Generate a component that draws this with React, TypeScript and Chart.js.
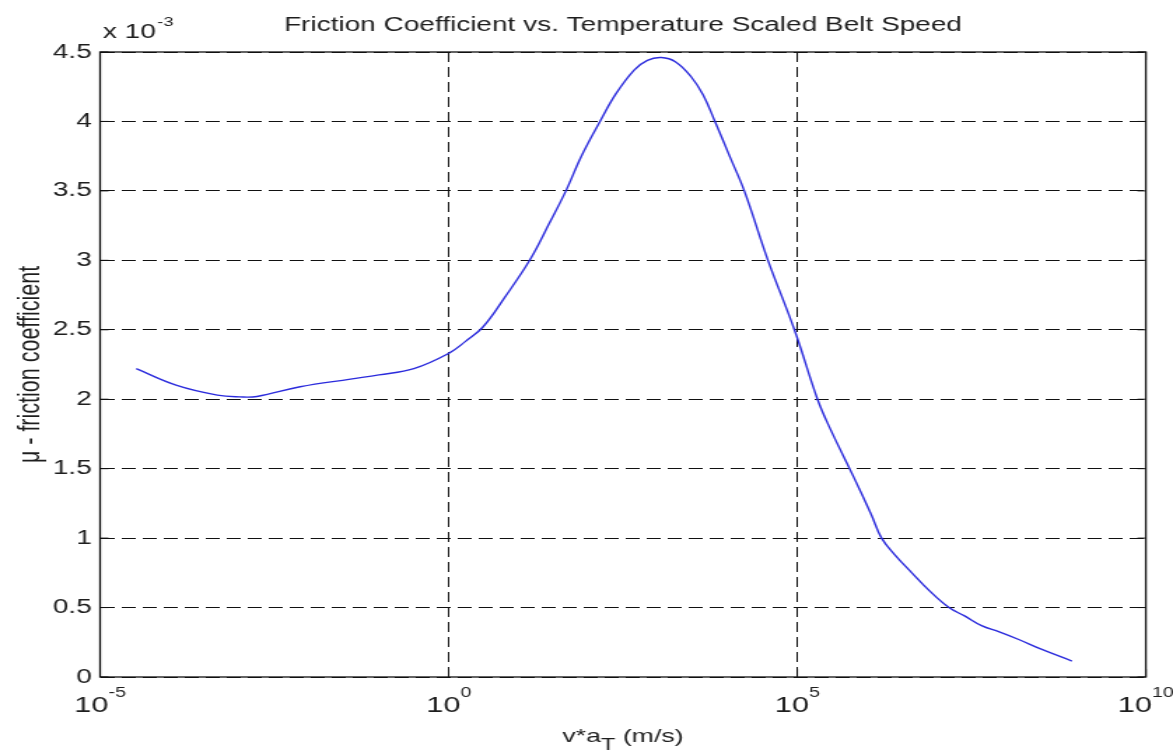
import React, { useEffect, useRef } from "react";
import { Chart, registerables } from "chart.js";

Chart.register(...registerables);

// Temperature scaled belt speed v*a_T (m/s)
const speedValues = [
  3.3e-5, 1.26e-4, 4.8e-4, 1.0e-3, 1.78e-3, 7.4e-3, 3.9e-2, 0.1, 0.316, 1,
  1.78, 3.1, 6.3, 14.5, 28, 48, 80, 148, 251, 457,
  708, 1120, 1780, 3020, 4470, 6600, 1.07e4, 1.74e4, 3.8e4, 9.1e4,
  1.95e5, 2.95e5, 6.3e5, 1.15e6, 1.62e6, 2.51e6, 4.4e6, 7.9e6, 1.5e7, 2.51e7,
  4.4e7, 7.9e7, 1.5e8, 3.16e8, 8.7e8,
];
// Friction coefficient (x 10^-3)
const frictionValues = [
  2.22, 2.10, 2.03, 2.017, 2.02, 2.09, 2.145, 2.175, 2.22, 2.33,
  2.42, 2.52, 2.73, 3.0, 3.27, 3.5, 3.75, 4.0, 4.2, 4.37,
  4.44, 4.46, 4.43, 4.32, 4.19, 4.0, 3.75, 3.5, 3.0, 2.5,
  2.0, 1.79, 1.45, 1.17, 1.0, 0.88, 0.75, 0.62, 0.5, 0.44,
  0.37, 0.325, 0.27, 0.2, 0.115,
];

const xTickValues = [1e-5, 1, 1e5, 1e10];
const xTickExponents = ["-5", "0", "5", "10"];
const yTickValues = [0, 0.5, 1, 1.5, 2, 2.5, 3, 3.5, 4, 4.5];
const yTickLabels = ["0", "0.5", "1", "1.5", "2", "2.5", "3", "3.5", "4", "4.5"];

const chartTitle = "Friction Coefficient vs. Temperature Scaled Belt Speed";
const yAxisTitle = "\u03bc - friction coefficient";
const yMultiplierParts = ["x 10", "-3"];
const xAxisTitleParts = ["v*a", "T", " (m/s)"];

const W = 838;
const H = 751;
const SX = 1173 / W;
const FONT = "'Liberation Sans', Arial, Helvetica, sans-serif";
const TEXT = "#1e1e1e";

const matlabPlugin = {
  id: "matlabFrame",
  afterDraw(chart: any) {
    const { ctx, chartArea } = chart;
    const { left, right, top, bottom } = chartArea;
    const xs = chart.scales.x;
    const ys = chart.scales.y;
    ctx.save();
    // frame
    ctx.strokeStyle = "#111";
    ctx.lineWidth = 1.3;
    ctx.setLineDash([]);
    ctx.strokeRect(left, top, right - left, bottom - top);
    // inward tick marks
    ctx.lineWidth = 1;
    ctx.beginPath();
    xTickValues.forEach((v) => {
      const px = xs.getPixelForValue(v);
      ctx.moveTo(px, bottom);
      ctx.lineTo(px, bottom - 8);
      ctx.moveTo(px, top);
      ctx.lineTo(px, top + 8);
    });
    yTickValues.forEach((v) => {
      const py = ys.getPixelForValue(v);
      ctx.moveTo(left, py);
      ctx.lineTo(left + 6, py);
      ctx.moveTo(right, py);
      ctx.lineTo(right - 6, py);
    });
    ctx.stroke();

    ctx.fillStyle = TEXT;
    // x tick labels with superscript exponents
    xTickValues.forEach((v, i) => {
      const px = xs.getPixelForValue(v);
      ctx.font = `22px ${FONT}`;
      const wb = ctx.measureText("10").width;
      ctx.font = `14px ${FONT}`;
      const we = ctx.measureText(xTickExponents[i]).width;
      const start = px - (wb + we) / 2;
      ctx.textAlign = "left";
      ctx.textBaseline = "alphabetic";
      ctx.font = `22px ${FONT}`;
      ctx.fillText("10", start, 712);
      ctx.font = `14px ${FONT}`;
      ctx.fillText(xTickExponents[i], start + wb, 697);
    });

    // multiplier above y axis
    ctx.textAlign = "left";
    ctx.font = `20px ${FONT}`;
    ctx.fillText(yMultiplierParts[0], left + 2, 38);
    const wm = ctx.measureText(yMultiplierParts[0]).width;
    ctx.font = `13px ${FONT}`;
    ctx.fillText(yMultiplierParts[1], left + 2 + wm + 1, 26);

    // title
    ctx.font = `20px ${FONT}`;
    ctx.textAlign = "center";
    ctx.fillText(chartTitle, (left + right) / 2, 31);

    // x axis title with subscript
    ctx.textAlign = "left";
    ctx.font = `19px ${FONT}`;
    const w0 = ctx.measureText(xAxisTitleParts[0]).width;
    const w2 = ctx.measureText(xAxisTitleParts[2]).width;
    ctx.font = `17px ${FONT}`;
    const w1 = ctx.measureText(xAxisTitleParts[1]).width;
    const tx = (left + right) / 2 - (w0 + w1 + w2) / 2;
    ctx.font = `19px ${FONT}`;
    ctx.fillText(xAxisTitleParts[0], tx, 742);
    ctx.font = `17px ${FONT}`;
    ctx.fillText(xAxisTitleParts[1], tx + w0, 750);
    ctx.font = `19px ${FONT}`;
    ctx.fillText(xAxisTitleParts[2], tx + w0 + w1, 742);
    ctx.restore();
  },
};

export default function App() {
  const canvasRef = useRef<HTMLCanvasElement | null>(null);

  useEffect(() => {
    const canvas = canvasRef.current;
    if (!canvas) return;
    const chart = new Chart(canvas, {
      type: "line",
      data: {
        datasets: [
          {
            label: "friction",
            data: speedValues.map((x, i) => ({ x, y: frictionValues[i] })),
            borderColor: "#2b2bdc",
            borderWidth: 1.4,
            pointRadius: 0,
            fill: false,
            tension: 0.4,
          },
        ],
      },
      options: {
        responsive: false,
        animation: false,
        layout: { padding: { top: 52, right: W - 818.6, left: 0, bottom: 0 } },
        plugins: {
          legend: { display: false },
          title: { display: false },
          tooltip: { enabled: false },
        },
        scales: {
          x: {
            type: "logarithmic",
            min: 1e-5,
            max: 1e10,
            afterBuildTicks: (scale: any) => {
              scale.ticks = xTickValues.map((value) => ({ value }));
            },
            afterFit: (scale: any) => {
              scale.height = H - 677;
            },
            ticks: { display: false },
            grid: { color: "#111", lineWidth: 1, drawTicks: false },
            border: { display: false, dash: [10, 5] },
          },
          y: {
            type: "linear",
            min: 0,
            max: 4.5,
            afterBuildTicks: (scale: any) => {
              scale.ticks = yTickValues.map((value) => ({ value }));
            },
            afterFit: (scale: any) => {
              scale.width = 71.5;
            },
            ticks: {
              color: TEXT,
              font: { size: 20, family: FONT },
              padding: 6,
              callback: (_v: any, i: number) => yTickLabels[i],
            },
            grid: { color: "#111", lineWidth: 1, drawTicks: false },
            border: { display: false, dash: [10, 5] },
            title: {
              display: true,
              text: yAxisTitle,
              color: TEXT,
              font: { size: 21.5, family: FONT },
              padding: { top: 9, bottom: 0 },
            },
          },
        },
      },
      plugins: [matlabPlugin],
    });
    return () => chart.destroy();
  }, []);

  return (
    <div
      style={{
        position: "fixed",
        left: 0,
        top: 0,
        width: 1173,
        height: 751,
        overflow: "hidden",
        background: "#fff",
      }}
    >
      <canvas
        ref={canvasRef}
        width={W}
        height={H}
        style={{
          display: "block",
          width: W,
          height: H,
          transform: `scaleX(${SX})`,
          transformOrigin: "0 0",
        }}
      />
    </div>
  );
}
